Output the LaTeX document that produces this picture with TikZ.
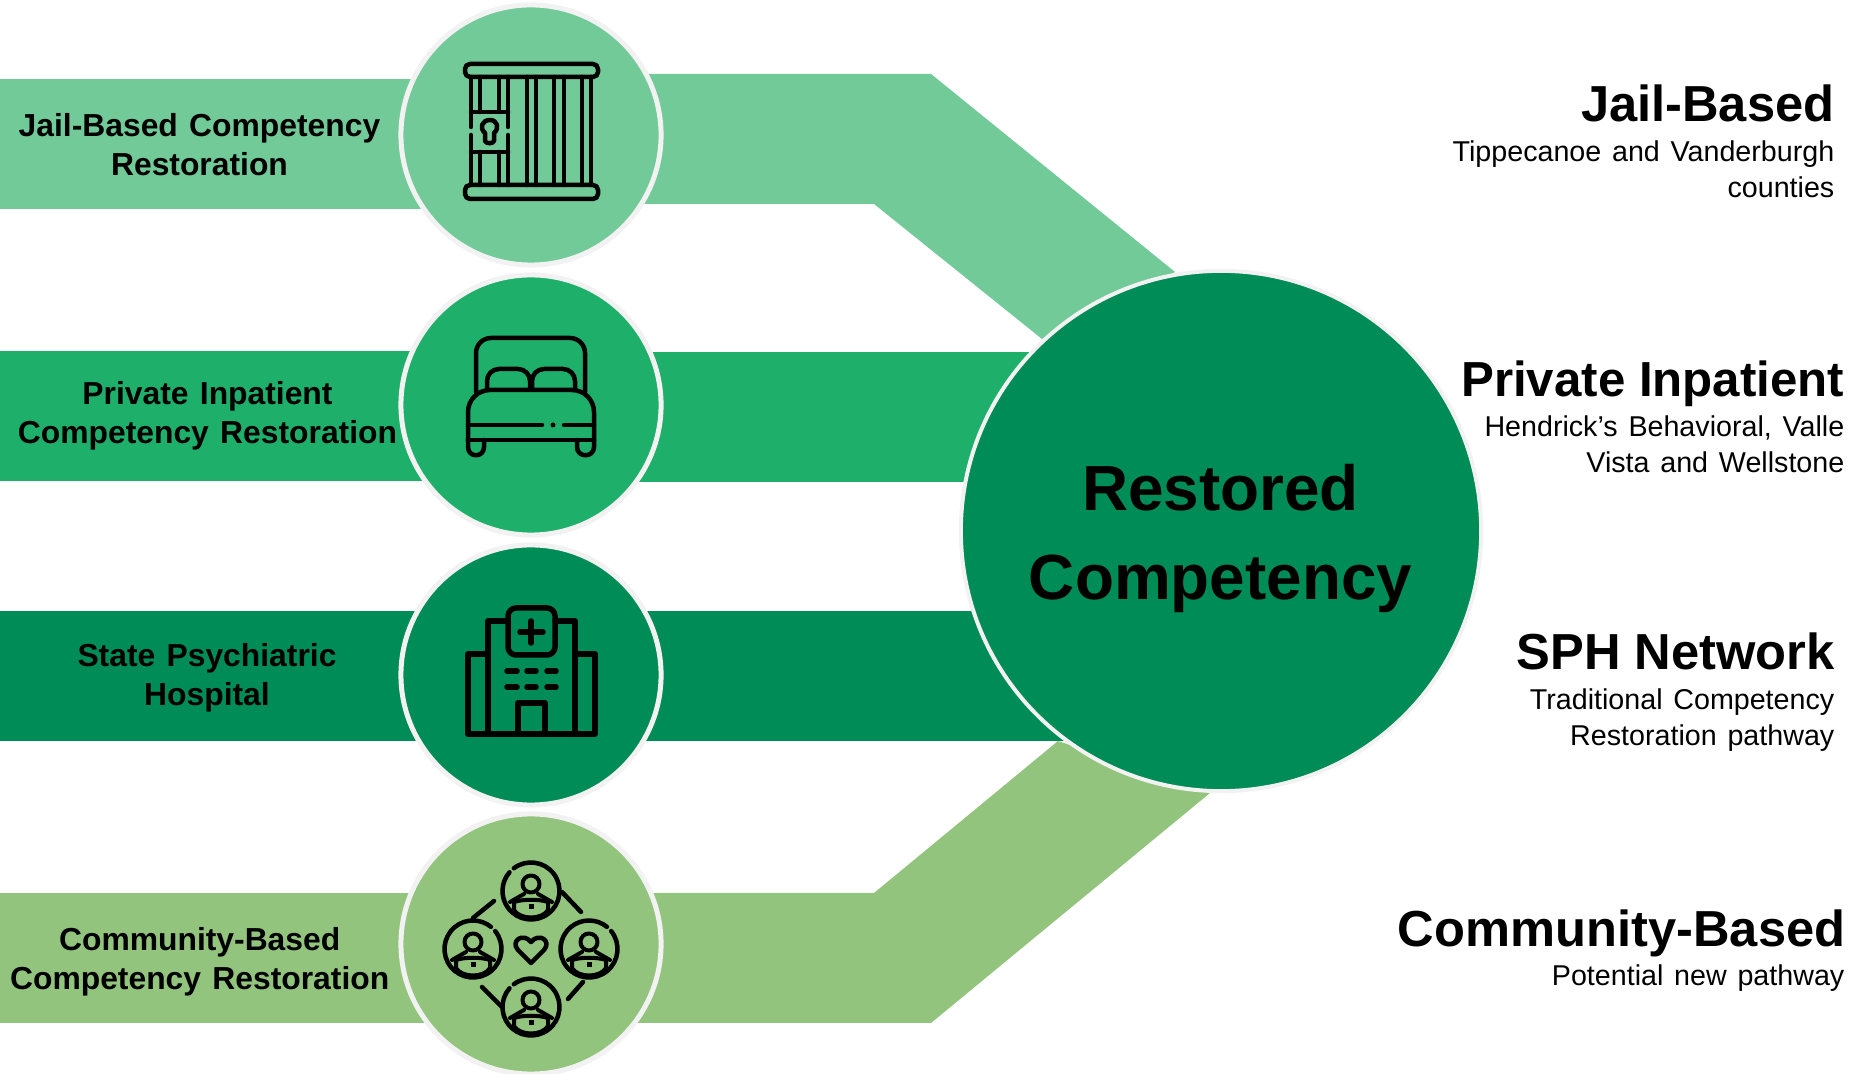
\documentclass[tikz,border=0pt]{standalone}
\usepackage{fontspec}
\setmainfont{Liberation Sans}
\usepackage{xcolor}
\definecolor{jailgreen}{HTML}{72CA98}
\definecolor{bedgreen}{HTML}{1EAF6B}
\definecolor{statgreen}{HTML}{008C56}
\definecolor{commgreen}{HTML}{93C47D}
\definecolor{ringgray}{HTML}{F2F2F2}
\newcommand{\widerspace}[1]{\spaceskip=\dimexpr\fontdimen2\font+#1\relax}
\begin{document}
\begin{tikzpicture}[x=0.01cm,y=-0.01cm,
		hub/.style={circle,draw=ringgray,line width=0.05cm,minimum size=2.6cm,inner sep=0pt},
		icon/.style={draw=black,line width=0.045cm,line cap=round,line join=round},
		barlabel/.style={font=\fontsize{9.05}{11.1}\selectfont\bfseries\widerspace{0.7pt},align=center,inner sep=0pt},
		headlabel/.style={font=\fontsize{14.4}{17}\selectfont\bfseries,anchor=east,inner sep=0pt},
		sublabel/.style={font=\fontsize{8.15}{10.15}\selectfont\widerspace{0.8pt},align=right,anchor=east,inner sep=0pt}]
		\useasboundingbox (0,0) rectangle (1864,1074);
		\fill[jailgreen] (0,79) rectangle (531,209);
		\fill[bedgreen] (0,351) rectangle (531,481);
		\fill[statgreen] (0,611) rectangle (531,741);
		\fill[commgreen] (0,893) rectangle (531,1023);
		\fill[jailgreen] (531,74)--(931,74)--(1175,272)--(1042,339)--(874,204)--(531,204)--cycle;
		\fill[bedgreen] (531,352) rectangle (1100,482);
		\fill[statgreen] (531,611) rectangle (1100,741);
		\fill[commgreen] (531,893)--(874,893)--(1058,741)--(1210,793)--(931,1023)--(531,1023)--cycle;
		\node[hub,fill=jailgreen] (jail) at (531,135) {};
		\node[hub,fill=bedgreen] (bed) at (531,405) {};
		\node[hub,fill=statgreen] (state) at (531,675) {};
		\node[hub,fill=commgreen] (comm) at (531,944) {};
		\node[circle,fill=statgreen,draw=ringgray,line width=0.04cm,minimum size=5.2cm,inner sep=0pt] (restored) at (1221,531) {};
		\node[align=center,inner sep=0pt,font=\fontsize{18.15}{25.3}\selectfont\bfseries] (restoredtxt) at (1220.5,538.5) {Restored\\Competency};
		\node[barlabel] (jailtxt) at (199.5,144.5) {Jail-Based Competency\\Restoration};
		\node[barlabel] (bedtxt) at (207.5,415.5) {Private Inpatient\\Competency Restoration};
		\node[barlabel] (statetxt) at (207,678) {State Psychiatric\\Hospital};
		\node[barlabel] (commtxt) at (199.7,961.4) {Community-Based\\Competency Restoration};
		\node[headlabel] (jailhead) at (1835,103) {Jail-Based};
		\node[sublabel] (jailsub) at (1835,169) {Tippecanoe and Vanderburgh\\counties};
		\node[headlabel,font=\fontsize{14}{17}\selectfont\bfseries] (bedhead) at (1845,384) {Private Inpatient};
		\node[sublabel] (bedsub) at (1845,444) {Hendrick’s Behavioral, Valle\\Vista and Wellstone};
		\node[headlabel] (statehead) at (1835.5,651.5) {SPH Network};
		\node[sublabel] (statesub) at (1835,720) {Traditional Competency\\Restoration pathway};
		\node[headlabel] (commhead) at (1846,933) {Community-Based};
		\node[sublabel] (commsub) at (1845,978) {Potential new pathway};
		\begin{scope}[shift={(531,135)},icon]
			\draw[rounded corners=0.05cm] (-66,-71) rectangle (67,-58);
			\draw[rounded corners=0.05cm] (-66,50) rectangle (67,64);
			\foreach \barx in {-4,5,23,33,51,60}
				\draw (\barx,-58) -- (\barx,50);
			\foreach \barx in {-60,-23}{
				\draw (\barx,-58) -- (\barx,-8);
				\draw (\barx,0) -- (\barx,50);
			}
			\foreach \barx in {-51,-32}{
				\draw (\barx,-58) -- (\barx,-23);
				\draw (\barx,17) -- (\barx,50);
			}
			\draw (-60,-23) -- (-23,-23);
			\draw (-60,17) -- (-23,17);
			\draw (-46,-2) .. controls (-52,-7) and (-49,-15) .. (-41,-15) .. controls (-34,-15) and (-31,-7) .. (-37,-2) -- (-37,6) .. controls (-38,9) and (-45,9) .. (-46,6) -- cycle;
		\end{scope}
		\begin{scope}[shift={(531,405)},icon]
			\draw[rounded corners=0.15cm] (-55,-13) -- (-55,-67) -- (54,-67) -- (54,-13);
			\draw[rounded corners=0.12cm] (-44,-17) -- (-44,-36) -- (-1,-36) -- (-1,-17);
			\draw[rounded corners=0.12cm] (1,-17) -- (1,-36) -- (44,-36) -- (44,-17);
			\draw[rounded corners=0.22cm] (-63,35) -- (-63,-15) -- (63,-15) -- (63,35);
			\draw (-63,35) -- (63,35);
			\draw (-63,20) -- (11,20);
			\draw (33,20) -- (63,20);
			\fill (22,20) circle (2.5);
			\draw (-63,35) -- (-63,42) .. controls (-63,53) and (-47,53) .. (-47,42) -- (-47,35);
			\draw (46,35) -- (46,42) .. controls (46,53) and (63,53) .. (63,42) -- (63,35);
		\end{scope}
		\begin{scope}[shift={(531,675)},icon,line width=0.055cm]
			\draw (-43,-21) -- (-63,-21) -- (-63,59) -- (64,59) -- (64,-21) -- (44,-21);
			\draw (-43,59) -- (-43,-54) -- (-23,-54);
			\draw (24,-54) -- (44,-54) -- (44,59);
			\draw[rounded corners=0.08cm] (-23,-67) rectangle (24,-20);
			\draw (-11,-43) -- (12,-43);
			\draw (0,-54) -- (0,-32);
			\foreach \winy in {-4,12}{
				\draw (-24,\winy) -- (-14,\winy);
				\draw (-4,\winy) -- (5,\winy);
				\draw (16,\winy) -- (25,\winy);
			}
			\draw (-13,59) -- (-13,28) -- (14,28) -- (14,59);
		\end{scope}
		\begin{scope}[shift={(531,949)},icon,line width=0.04cm]
			\foreach \px/\py/\gapa in {0/-58/227,-58/0/315,58/0/315,0/58/227}{
				\begin{scope}[shift={(\px,\py)}]
					\draw[line width=0.045cm] (\gapa+6:28.5) arc (\gapa+6:\gapa+354:28.5);
					\draw (0,-7) circle (8.5);
					\draw (-21,11) -- (-7,3);
					\draw (21,11) -- (7,3);
					\draw (-17,11) -- (-17,19) .. controls (-11,29) and (11,29) .. (17,19) -- (17,11);
					\draw (-17,11) .. controls (-8,8) and (8,8) .. (17,11);
					\fill (-2.5,13) rectangle (2.5,18);
				\end{scope}
			}
			\draw[line width=0.045cm] (-58,-31) -- (-37,-48);
			\draw[line width=0.045cm] (31,-57) -- (50,-37);
			\draw[line width=0.045cm] (52,33) -- (37,50);
			\draw[line width=0.045cm] (-49,38) -- (-29,58);
			\draw[line width=0.045cm] (0,14) -- (-13,1) .. controls (-21,-8) and (-8,-17) .. (0,-7) .. controls (8,-17) and (21,-8) .. (13,1) -- cycle;
		\end{scope}
	\end{tikzpicture}
\end{document}
